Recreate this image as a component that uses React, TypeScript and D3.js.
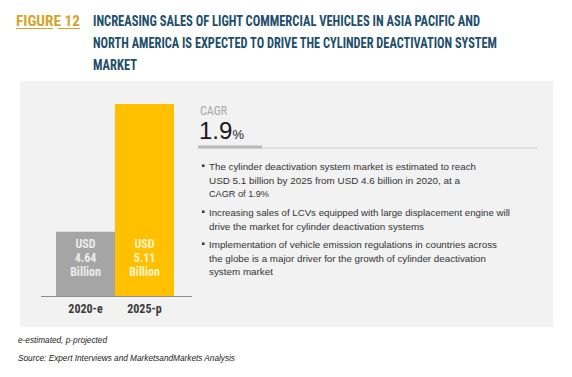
import React from "react";
import * as d3 from "d3";

const categories = ["2020-e", "2025-p"];
const values = [4.64, 5.11];
const valueLabels = ["4.64", "5.11"];
const barColors = ["#a5a5a5", "#ffc000"];
const barTextColors = ["#ececec", "#fff4cc"];
const titleLines = [
  "INCREASING SALES OF LIGHT COMMERCIAL VEHICLES IN ASIA PACIFIC AND",
  "NORTH AMERICA IS EXPECTED TO DRIVE THE CYLINDER DEACTIVATION SYSTEM",
  "MARKET",
];
const titleWidths = [387, 404, 44];
const bullets = [
  [
    "The cylinder deactivation system market is estimated to reach",
    "USD 5.1 billion by 2025 from USD 4.6 billion in 2020, at a",
    "CAGR of 1.9%",
  ],
  [
    "Increasing sales of LCVs equipped with large displacement engine will",
    "drive the market for cylinder deactivation systems",
  ],
  [
    "Implementation of vehicle emission regulations in countries across",
    "the globe is a major driver for the growth of cylinder deactivation",
    "system market",
  ],
];
const bulletWidths = [
  [267, 251, 60],
  [301, 215],
  [288, 277, 64],
];
const bulletY = [170, 216, 248];
const cagrValue = "1.9";

export default function App() {
  const W = 572,
    H = 377;
  const x = d3.scaleBand<string>().domain(categories).range([56, 174]).paddingInner(0);
  const y = d3.scaleLinear().domain([4.4, 5.11]).range([297, 104]);
  const cond = "'Liberation Sans Narrow', 'Roboto Condensed', 'Arial Narrow', sans-serif";
  const body = "'Liberation Sans', Arial, sans-serif";

  return (
    <svg
      width={W}
      height={H}
      style={{ position: "absolute", left: 0, top: 0, background: "#fff" }}
      fontFamily={body}
    >
      {/* Header */}
      <text x={16} y={26} fontFamily={cond} fontWeight="bold" fontSize={14.5} fill="#d4a52b" textLength={64} lengthAdjust="spacingAndGlyphs">
        FIGURE 12
      </text>
      <line x1={16} x2={53} y1={28.5} y2={28.5} stroke="#d4a52b" strokeWidth={1} />
      <line x1={58} x2={80} y1={28.5} y2={28.5} stroke="#d4a52b" strokeWidth={1} />
      {titleLines.map((t, i) => (
        <text
          key={i}
          x={93}
          y={26 + i * 22}
          fontFamily={cond}
          fontWeight="bold"
          fontSize={14.5}
          fill="#1d4e6b"
          textLength={titleWidths[i]}
          lengthAdjust="spacingAndGlyphs"
        >
          {t}
        </text>
      ))}

      {/* Panel */}
      <rect x={20} y={81} width={533} height={246} fill="#f2f2f2" />

      {/* Bars */}
      {categories.map((c, i) => (
        <rect key={c} x={x(c)} y={y(values[i])} width={x.bandwidth()} height={y.range()[0] - y(values[i])} fill={barColors[i]} />
      ))}
      {categories.map((c, i) => {
        const cx = (x(c) as number) + x.bandwidth() / 2;
        return (
          <g key={"l" + c} fontFamily={cond} fontWeight="bold" fontSize={12} fill={barTextColors[i]} textAnchor="middle">
            <text x={cx} y={248}>USD</text>
            <text x={cx} y={262}>{valueLabels[i]}</text>
            <text x={cx} y={276}>Billion</text>
          </g>
        );
      })}
      <line x1={41} x2={192} y1={296.5} y2={296.5} stroke="#8c8c8c" strokeWidth={1} />
      {categories.map((c) => (
        <text
          key={"a" + c}
          x={(x(c) as number) + x.bandwidth() / 2}
          y={313}
          textAnchor="middle"
          fontFamily={cond}
          fontWeight="bold"
          fontSize={12}
          fill="#3a3a3a"
        >
          {c}
        </text>
      ))}

      {/* CAGR */}
      <text x={200} y={115} fontFamily={cond} fontSize={12} fill="#a8a8a8">CAGR</text>
      <text x={199} y={139} fontFamily={body} fontSize={24} fill="#1a1a1a">
        {cagrValue}
        <tspan fontSize={13}>%</tspan>
      </text>
      <line x1={198} x2={537} y1={148} y2={148} stroke="#cfcfcf" strokeWidth={1} />
      <line x1={198} x2={262} y1={147} y2={147} stroke="#b9b9b9" strokeWidth={3} />

      {/* Bullets */}
      {bullets.map((lines, bi) => (
        <g key={"b" + bi}>
          <rect x={202} y={bulletY[bi] - 5.5} width={2.5} height={2.5} fill="#333" />
          {lines.map((ln, li) => (
            <text
              key={li}
              x={209}
              y={bulletY[bi] + li * 13.5}
              fontSize={9.5}
              fill="#333"
              textLength={bulletWidths[bi][li]}
              lengthAdjust="spacingAndGlyphs"
            >
              {ln}
            </text>
          ))}
        </g>
      ))}

      {/* Footnotes */}
      <text x={18} y={343} fontSize={8.5} fontStyle="italic" fill="#222" textLength={89} lengthAdjust="spacingAndGlyphs">
        e-estimated, p-projected
      </text>
      <text x={18} y={361} fontSize={8.5} fontStyle="italic" fill="#222" textLength={217} lengthAdjust="spacingAndGlyphs">
        Source: Expert Interviews and MarketsandMarkets Analysis
      </text>
    </svg>
  );
}
